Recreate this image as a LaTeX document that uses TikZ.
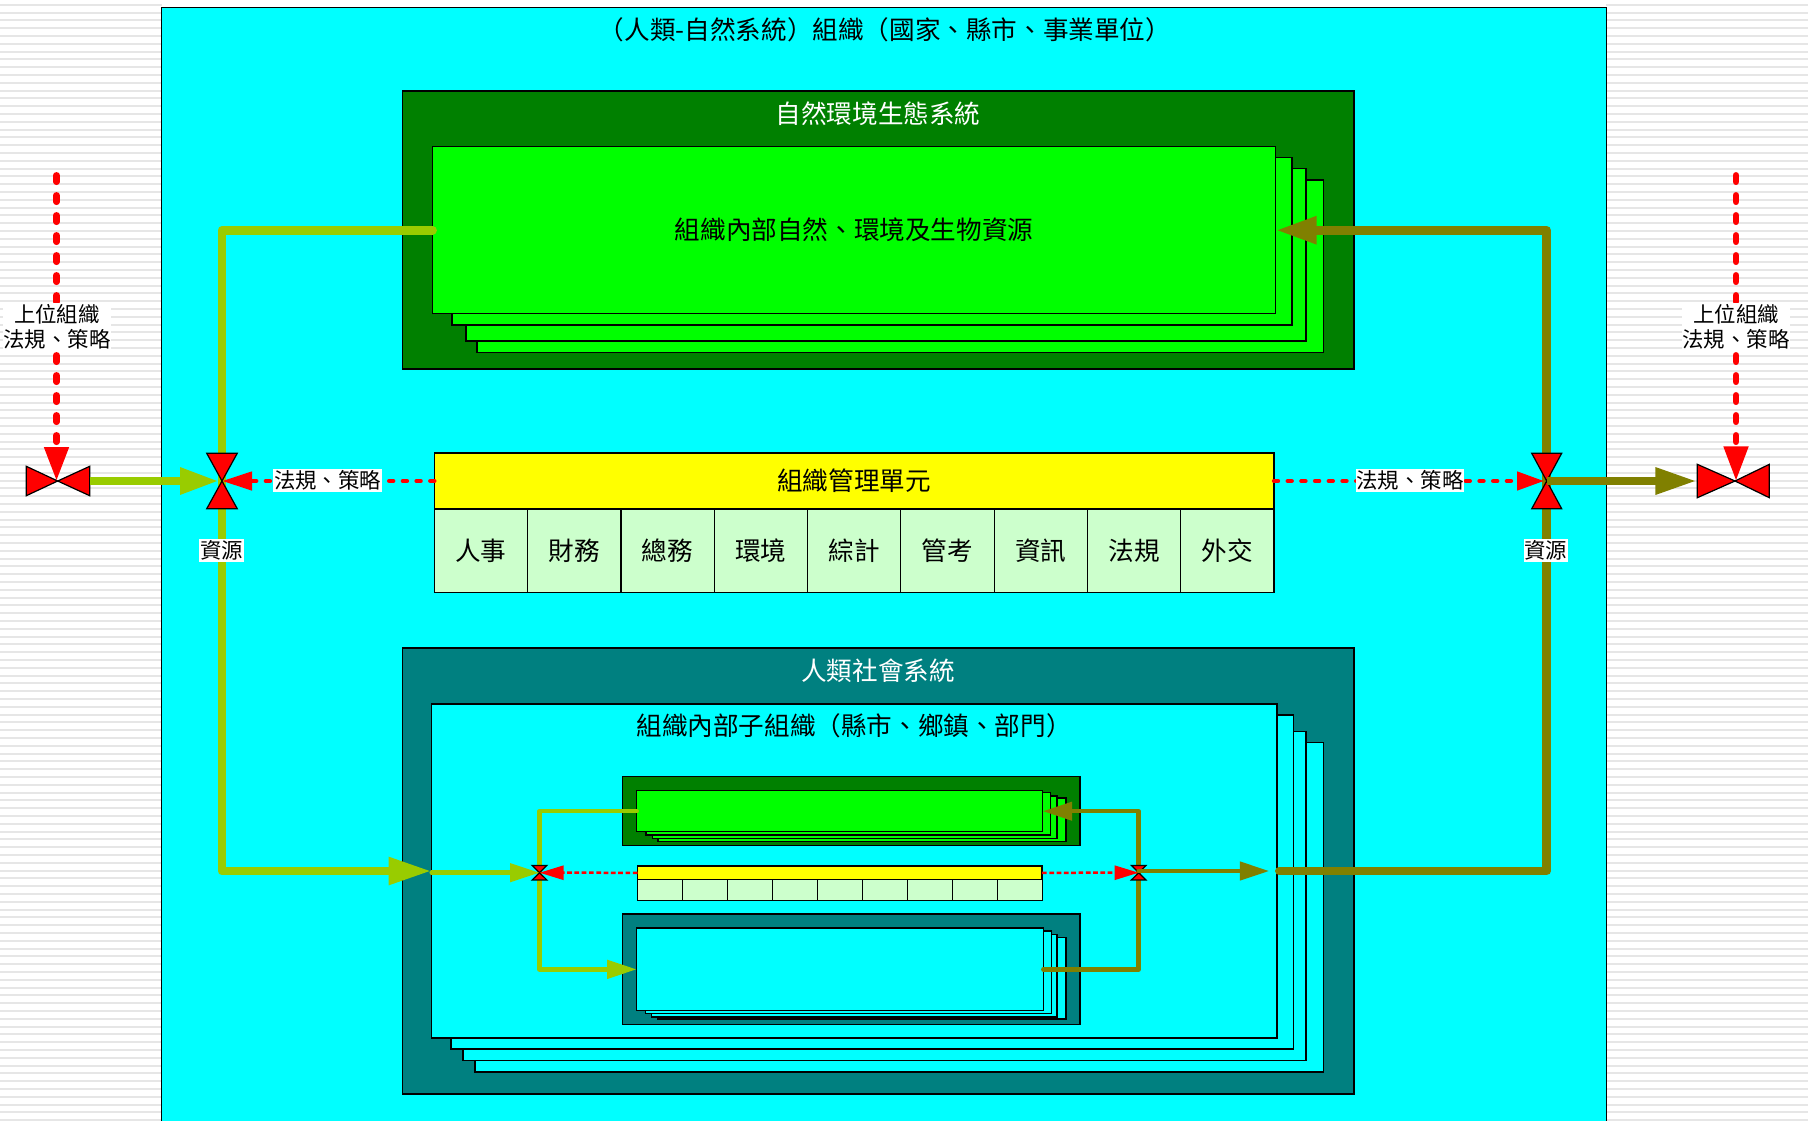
\documentclass[tikz,border=0pt]{standalone}
\usepackage{fontspec}
\setmainfont{Noto Sans CJK TC}
\usetikzlibrary{arrows.meta}
\definecolor{dgreen}{HTML}{008000}
\definecolor{lime}{HTML}{00FF00}
\definecolor{teal2}{HTML}{008080}
\definecolor{aqua}{HTML}{00FFFF}
\definecolor{pale}{HTML}{CCFFCC}
\definecolor{yel}{HTML}{FFFF00}
\definecolor{grn}{HTML}{99CC00}
\definecolor{oli}{HTML}{808000}
\definecolor{stripe}{HTML}{E6E6E6}
\tikzset{
  x=0.5pt,y=-0.5pt,
  boxn/.style={draw=black,line width=0.6pt,inner sep=0pt,outer sep=0pt},
  lab/.style={inner sep=0pt,font=\fontsize{12.8}{15}\selectfont},
  wlab/.style={fill=white,inner xsep=0.4pt,inner ysep=0.9pt,font=\fontsize{10.7}{12.5}\selectfont,align=center},
  bigflow/.style={line width=4.4pt,line cap=round,line join=round},
  smallflow/.style={line width=2.25pt,line cap=round,line join=round,-{Triangle[length=14.75pt,width=9pt]}},
  reddotbig/.style={draw=red,line width=3.25pt,line cap=round,dash pattern=on 3.25pt off 6.75pt},
  reddotmid/.style={draw=red,line width=2.2pt,line cap=round,dash pattern=on 2pt off 4.85pt},
  reddotsmall/.style={draw=red,line width=1.25pt,dash pattern=on 2.35pt off 1.3pt},
  valve/.style={draw=black,line width=0.6pt,fill=red,line join=miter},
}
\newcommand{\bx}[6]{\node[boxn,fill=#2,minimum width={((#5)-(#3))*0.5pt},minimum height={((#6)-(#4))*0.5pt}] (#1) at ({((#3)+(#5))/2},{((#4)+(#6))/2}) {};}
% vertical hourglass: centre, half width, half height
\newcommand{\hglass}[4]{\draw[valve] (#1-#3,#2-#4) -- (#1+#3,#2-#4) -- (#1,#2) -- cycle;\draw[valve] (#1-#3,#2+#4) -- (#1+#3,#2+#4) -- (#1,#2) -- cycle;}
% horizontal bow tie: centre, half width left, half width right, half height
\newcommand{\btie}[5]{\draw[valve] (#1-#3,#2-#5) -- (#1-#3,#2+#5) -- (#1,#2) -- cycle;\draw[valve] (#1+#4,#2-#5) -- (#1+#4,#2+#5) -- (#1,#2) -- cycle;}
\begin{document}
\begin{tikzpicture}
\path[use as bounding box,clip] (0,0) rectangle (1808,1120);
\fill[white] (0,0) rectangle (1808,1120);
\foreach \i in {0,...,143}{
  \pgfmathsetmacro{\yy}{4.7+7.8*\i}
  \draw[stripe,line width=1pt] (0,\yy) -- (162,\yy) (1606,\yy) -- (1808,\yy);
}
% outer organisation
\bx{outer}{aqua}{161.5}{7.5}{1606.7}{1140}
\node[lab] (outertitle) at (885,30) {（人類-自然系統）組織（國家、縣市、事業單位）};
% nature system
\bx{green}{dgreen}{402.5}{91}{1354}{369}
\node[lab,text=white] (greentitle) at (878,114) {自然環境生態系統};
\bx{gl4}{lime}{477}{180}{1323.7}{352.7}
\bx{gl3}{lime}{466}{168.7}{1306}{341}
\bx{gl2}{lime}{452}{157.7}{1292}{325}
\bx{gfront}{lime}{432.5}{146.7}{1275.7}{313.7}
\node[lab] (gtext) at (854,230) {組織內部自然、環境及生物資源};
% management unit
\bx{mgmt}{yel}{434.3}{453}{1274}{509}
\node[lab] (mgmttext) at (854,481) {組織管理單元};
\foreach \t [count=\i from 0] in {人事,財務,總務,環境,綜計,管考,資訊,法規,外交}{
  \pgfmathsetmacro{\xa}{434.3+93.3*\i}
  \pgfmathsetmacro{\xb}{434.3+93.3*(\i+1)}
  \bx{cell\i}{pale}{\xa}{509}{\xb}{592.7}
  \node[lab] (celltext\i) at (cell\i) {\t};
}
% society system
\bx{teal}{teal2}{402.5}{648}{1354}{1094}
\node[lab,text=white] (tealtitle) at (878,671) {人類社會系統};
\bx{tl4}{aqua}{475}{742.7}{1323.7}{1072}
\bx{tl3}{aqua}{463}{731.7}{1306}{1060.7}
\bx{tl2}{aqua}{451}{715}{1293.7}{1049}
\bx{tfront}{aqua}{431.7}{704}{1277}{1038}
\node[lab] (ttext) at (854,726) {組織內部子組織（縣市、鄉鎮、部門）};
% inner nature system
\bx{sgreen}{dgreen}{622.3}{776.3}{1080}{845.3}
\bx{sgl4}{lime}{658}{798}{1066}{841.7}
\bx{sgl3}{lime}{652.7}{796}{1057}{838.7}
\bx{sgl2}{lime}{646}{792.7}{1050.7}{835}
\bx{sgfront}{lime}{636.7}{790.7}{1042.7}{831.7}
% inner management
\bx{smgmt}{yel}{637.5}{866}{1042}{879.5}
\foreach \i in {0,...,8}{
  \pgfmathsetmacro{\xa}{637.5+45*\i}
  \pgfmathsetmacro{\xb}{637.5+45*(\i+1)}
  \bx{scell\i}{pale}{\xa}{879.5}{\xb}{900.7}
}
% inner society
\bx{steal}{teal2}{622.3}{914}{1080}{1024.7}
\bx{stl4}{aqua}{657.5}{937.7}{1066}{1019}
\bx{stl3}{aqua}{651.5}{934.7}{1057}{1017}
\bx{stl2}{aqua}{645.7}{931}{1051.7}{1013.3}
\bx{stfront}{aqua}{636.7}{928}{1043.3}{1010.7}
% junctions
\coordinate (j1) at (222,481);
\coordinate (j2) at (1546.7,481);
\coordinate (j3) at (539.5,872.7);
\coordinate (j4) at (1138.7,872.7);
\coordinate (blin) at (56.5,481);
\coordinate (brin) at (1736,481);
\coordinate (blout) at (89.7,481);
\coordinate (brout) at (1697,481);
\coordinate (tl) at (56.5,175.3);
\coordinate (tr) at (1736,175.3);
\coordinate (j4out) at (1269.3,871);
% vertical flows, under the valves
\draw[bigflow,grn,-{Triangle[length=21.5pt,width=12.9pt]}] (gfront.west) -| (j1) |- (tfront.west);
\draw[bigflow,oli,-{Triangle[length=20.5pt,width=13pt]}] ([xshift=1.2pt]tfront.east) -| (j2) |- (gfront.east);
\draw[smallflow,grn] (sgfront.west) -| (j3) |- (stfront.west);
\draw[smallflow,oli] (stfront.east) -| (j4) |- (sgfront.east);
% valves
\hglass{222}{481}{15.3}{27.8}
\hglass{1546.7}{481}{15}{27.8}
\hglass{539.5}{872.7}{7.3}{7.2}
\hglass{1138.7}{872.7}{7.3}{7.2}
\btie{57.7}{481}{31.4}{32}{14.7}
\btie{1735}{481}{37.7}{34.3}{16.7}
% rule flows (red)
\draw[reddotbig,-{Triangle[length=17pt,width=11.7pt]}] (tl) -- (blin);
\draw[reddotbig,-{Triangle[length=17.3pt,width=11.7pt]}] (tr) -- (brin);
\draw[reddotmid,-{Triangle[length=15pt,width=9pt]}] (mgmt.west) -- (j1);
\draw[reddotmid,-{Triangle[length=13.5pt,width=9pt]},shorten >=1.3pt] (mgmt.east) -- (j2);
\draw[reddotsmall,-{Triangle[length=12pt,width=7pt]}] (smgmt.west) -- (j3);
\draw[reddotsmall,-{Triangle[length=12pt,width=7pt]}] (smgmt.east) -- (j4);
% horizontal resource flows
\draw[line width=4.4pt,grn,-{Triangle[length=19.5pt,width=12.5pt]},shorten >=1.5pt] (blout) -- (j1);
\draw[line width=4.4pt,oli,-{Triangle[length=20.8pt,width=12.5pt]}] (j2) -- (brout);
\draw[smallflow,grn] (tfront.west |- j3) -- (j3);
\draw[smallflow,oli] (j4 |- j4out) -- (j4out);
% labels
\node[wlab] (rulesL) at (57,327) {上位組織\\法規、策略};
\node[wlab] (rulesR) at (1736,327) {上位組織\\法規、策略};
\node[wlab] (lawL) at (327.5,480.5) {法規、策略};
\node[wlab] (lawR) at (1410,480.5) {法規、策略};
\node[wlab] (resL) at (221.5,550.5) {資源};
\node[wlab] (resR) at (1545.7,550.5) {資源};
\end{tikzpicture}
\end{document}
